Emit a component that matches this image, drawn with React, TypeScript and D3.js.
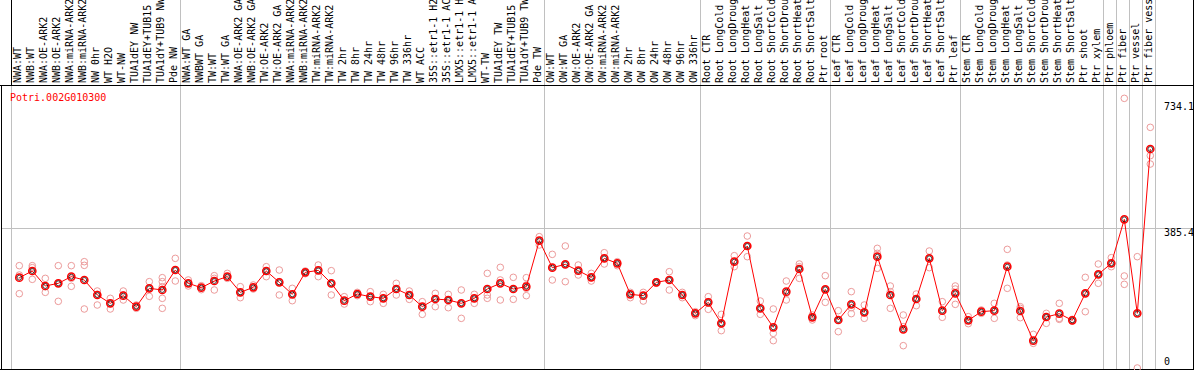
import React from "react";
import * as d3 from "d3";

const title = "Potri.002G010300";

const categories = [
  "NWA:WT", "NWB:WT", "NWA:OE-ARK2", "NWB:OE-ARK2", "NWA:miRNA-ARK2", "NWB:miRNA-ARK2", "NW 0hr", "WT H2O", "WT-NW", "TUA1dEY NW", "TUA1dEY+TUB15", "TUA1dY+TUB9 NW", "Pde NW",
  "NWA:WT GA", "NWBWT GA", "TW:WT", "TW:WT GA", "NWA:OE-ARK2 GA", "NWB:OE-ARK2 GA", "TW:OE-ARK2", "TW:OE-ARK2 GA", "NWA:miRNA-ARK2", "NWB:miRNA-ARK2", "TW:miRNA-ARK2", "TW:miRNA-ARK2", "TW 2hr", "TW 8hr", "TW 24hr", "TW 48hr", "TW 96hr", "TW 336hr", "WT ACC", "35S::etr1-1 H2O", "35S::etr1-1 ACC", "LMX5::etr1-1 H2O", "LMX5::etr1-1 ACC", "WT-TW", "TUA1dEY TW", "TUA1dEY+TUB15", "TUA1dY+TUB9 TW", "Pde TW",
  "OW:WT", "OW:WT GA", "OW:OE-ARK2", "OW:OE-ARK2 GA", "OW:miRNA-ARK2", "OW:miRNA-ARK2", "OW 2hr", "OW 8hr", "OW 24hr", "OW 48hr", "OW 96hr", "OW 336hr",
  "Root CTR", "Root LongCold", "Root LongDrought", "Root LongHeat", "Root LongSalt", "Root ShortCold", "Root ShortDrought", "Root ShortHeat", "Root ShortSalt", "Ptr root",
  "Leaf CTR", "Leaf LongCold", "Leaf LongDrought", "Leaf LongHeat", "Leaf LongSalt", "Leaf ShortCold", "Leaf ShortDrought", "Leaf ShortHeat", "Leaf ShortSalt", "Ptr leaf",
  "Stem CTR", "Stem LongCold", "Stem LongDrought", "Stem LongHeat", "Stem LongSalt", "Stem ShortCold", "Stem ShortDrought", "Stem ShortHeat", "Stem ShortSalt", "Ptr shoot",
  "Ptr xylem", "Ptr phloem", "Ptr fiber", "Ptr vessel", "Ptr fiber vessel",
];

// index where each group begins (group separators)
const groupStarts = [0, 13, 41, 53, 63, 73, 84, 85, 86, 87, 88];

const means = [
  249.2, 267.6, 226.2, 233.6, 252.0, 242.8, 201.4, 178.4, 199.5, 169.2, 219.8, 215.2, 270.3,
  233.6, 221.6, 240.0, 252.0, 208.7, 222.5, 267.6, 236.3, 203.2, 263.9, 269.4, 233.6, 185.7, 204.1, 196.8, 192.2, 217.9, 201.4, 169.2, 190.3, 187.6, 178.4, 192.2, 217.9, 233.6, 217.9, 224.4, 351.3,
  276.8, 286.0, 268.5, 250.1, 302.5, 288.7, 203.2, 199.5, 236.3, 242.8, 201.4, 150.8,
  181.1, 123.2, 293.3, 336.6, 164.6, 112.2, 210.6, 273.1, 139.8, 217.0,
  132.4, 175.6, 153.6, 307.1, 201.4, 106.7, 190.3, 302.5, 158.2, 206.0,
  131.5, 155.4, 158.2, 279.5, 157.2, 75.4, 140.7, 149.9, 131.5, 206.0,
  258.4, 288.7, 410.1, 150.8, 604.1,
];

const replicates = [
  [282.3, 256.5, 205.0], [282.3, 276.8, 244.6], [247.3, 224.4, 208.7], [282.3, 233.6, 183.9], [282.3, 247.3, 225.3], [293.3, 283.2, 162.8], [212.4, 203.2, 173.8], [192.2, 178.4, 162.8], [212.4, 201.4, 187.6], [173.8, 169.2, 164.6], [238.2, 219.8, 197.7], [249.2, 238.2, 224.4, 192.2, 164.6], [302.5, 270.3, 240.0],
  [242.8, 233.6, 226.2], [227.1, 221.6, 216.1], [254.7, 247.3, 215.2], [261.1, 252.0, 247.3], [224.4, 208.7, 194.0], [229.0, 222.5, 217.9], [279.5, 267.6, 252.0], [270.3, 238.2, 201.4], [219.8, 203.2, 185.7], [267.6, 263.9, 260.2], [284.1, 270.3, 252.0], [268.5, 233.6, 201.4], [196.8, 184.8, 176.5], [208.7, 203.2, 199.5], [210.6, 196.8, 183.0], [203.2, 192.2, 178.4], [233.6, 217.9, 201.4], [212.4, 201.4, 189.4], [183.0, 169.2, 148.0], [206.0, 190.3, 169.2], [203.2, 187.6, 166.4], [215.2, 178.4, 137.0], [203.2, 192.2, 178.4], [261.1, 201.4, 192.2], [277.7, 242.8, 187.6], [250.1, 217.9, 189.4], [249.2, 229.0, 219.8, 199.5], [362.3, 351.3, 339.3],
  [313.5, 276.8, 242.8], [336.6, 286.0, 238.2], [284.1, 268.5, 256.5], [261.1, 250.1, 240.0], [318.1, 302.5, 286.9], [293.3, 288.7, 282.3], [208.7, 203.2, 194.0], [208.7, 199.5, 184.8], [238.2, 236.3, 233.6], [265.7, 242.8, 215.2], [208.7, 201.4, 194.0], [155.4, 150.8, 144.4],
  [196.8, 183.0, 161.8], [148.0, 123.2, 103.0], [309.9, 293.3, 279.5], [364.1, 336.6, 307.1], [184.8, 164.6, 148.0], [162.8, 95.6, 75.4], [240.0, 206.0, 187.6], [286.9, 279.5, 247.3], [146.2, 139.8, 132.4], [254.7, 217.0, 181.1],
  [158.2, 132.4, 100.2], [210.6, 166.4, 149.9], [173.8, 153.6, 137.0], [330.1, 316.3, 274.9], [226.2, 210.6, 164.6], [146.2, 114.0, 61.6], [204.1, 190.3, 171.9], [322.7, 302.5, 276.8], [183.0, 158.2, 139.8], [226.2, 217.9, 175.6],
  [141.6, 131.5, 122.3], [160.0, 155.4, 150.8], [178.4, 158.2, 137.0], [327.3, 284.1, 219.8], [169.2, 164.6, 138.8], [92.9, 75.4, 68.0], [150.8, 140.7, 123.2], [178.4, 137.0, 134.2], [134.2, 131.5, 129.7], [250.1, 206.0, 155.4],
  [286.9, 258.4, 233.6], [304.4, 288.7, 279.5], [743.9, 253.8, 230.8], [307.1, 0], [663.9, 585.7, 562.7],
];

const yTicks = [0, 385.4, 734.1];
const gridValues = [385.4];

const W = 1194;
const H = 370;
const FONT = "'DejaVu Sans Mono', monospace";

export default function App() {
  const x = d3
    .scaleBand<number>()
    .domain(d3.range(categories.length))
    .range([11.3, 1155.3])
    .paddingInner(0)
    .paddingOuter(0);
  const y = d3.scaleLinear().domain([0, 734.1]).range([368, 101.9]);
  const cx = (i: number) => (x(i) as number) + 8;

  const line = d3
    .line<number>()
    .x((_, i) => cx(i))
    .y((d) => y(d));

  const plotTop = 85.5;
  const plotBottom = 369.5;

  return (
    <svg
      width={W}
      height={H}
      style={{ position: "absolute", left: 0, top: 0, background: "#fff" }}
      fontFamily={FONT}
    >
      <rect x={0} y={0} width={W} height={H} fill="#fff" />
      {/* group separators */}
      {groupStarts.map((g, k) => {
        const gx = Math.round(11.3 + g * x.bandwidth()) + 0.5;
        return (
          <g key={"gs" + k}>
            <line x1={gx} x2={gx} y1={k === 0 ? plotTop : 0} y2={plotBottom} stroke="#c0c0c0" strokeWidth={1} />
            {k === 0 && <line x1={gx} x2={gx} y1={0} y2={plotTop} stroke="#000" strokeWidth={1} />}
          </g>
        );
      })}
      {/* horizontal grid */}
      {gridValues.map((v, k) => (
        <line key={"gr" + k} x1={1} x2={1193} y1={Math.round(y(v)) + 0.5} y2={Math.round(y(v)) + 0.5} stroke="#c0c0c0" strokeWidth={1} />
      ))}
      {/* frame */}
      <line x1={0} x2={W} y1={plotTop} y2={plotTop} stroke="#000" strokeWidth={1} />
      <line x1={1.5} x2={1.5} y1={plotTop} y2={plotBottom} stroke="#000" strokeWidth={1} />
      <line x1={0} x2={W} y1={plotBottom} y2={plotBottom} stroke="#000" strokeWidth={1} />
      <line x1={1193.5} x2={1193.5} y1={0} y2={H} stroke="#000" strokeWidth={1} />

      {/* category labels */}
      {categories.map((c, i) => (
        <text
          key={"lab" + i}
          transform={`translate(${cx(i) + 2},83) rotate(-90)`}
          fontSize={10}
          fill="#000"
        >
          {c}
        </text>
      ))}

      {/* title */}
      <text x={10} y={101} fontSize={10} fill="#ff0000">
        {title}
      </text>

      {/* y tick labels */}
      {yTicks.map((t, k) => (
        <text key={"yt" + k} x={1164} y={Math.min(y(t) + 8, 365)} fontSize={10} fill="#000">
          {String(t)}
        </text>
      ))}

      {/* replicates */}
      {replicates.map((reps, i) =>
        reps.map((r, j) => (
          <circle
            key={`r${i}-${j}`}
            cx={cx(i)}
            cy={y(r)}
            r={3.3}
            fill="none"
            stroke="#ec9a9a"
            strokeWidth={1}
          />
        ))
      )}

      {/* mean line */}
      <path d={line(means) || ""} fill="none" stroke="#ff0000" strokeWidth={1} />

      {/* mean markers */}
      {means.map((m, i) => (
        <g key={"m" + i}>
          <circle cx={cx(i)} cy={y(m)} r={3.6} fill="none" stroke="#ff0000" strokeWidth={1.5} />
          <circle cx={cx(i)} cy={y(m)} r={2.4} fill="none" stroke="#000" strokeWidth={0.7} />
        </g>
      ))}
    </svg>
  );
}
